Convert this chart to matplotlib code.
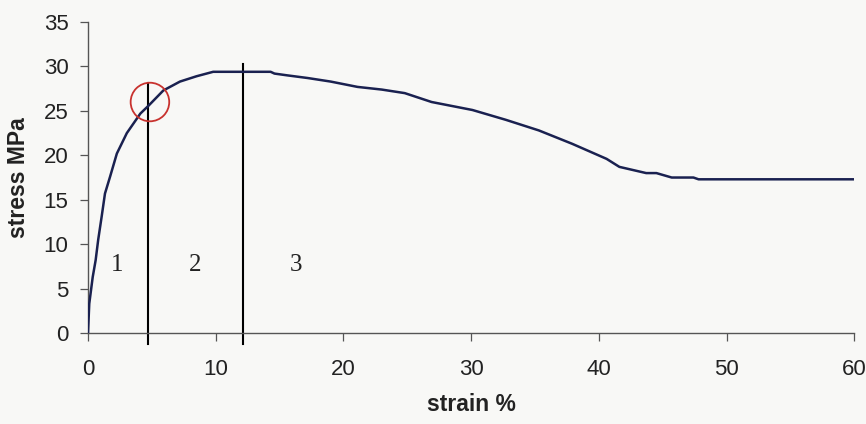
import matplotlib.pyplot as plt
from matplotlib.patches import Ellipse

# data
strain = [0, 0.1, 0.37, 0.6, 0.8, 1.07, 1.33, 1.73, 2.26, 3.04, 4.1, 4.75, 5.9, 7.2,
          8.5, 9.8, 14.3, 14.6, 15.6, 17.2, 19.0, 21.1, 23.0, 24.8, 26.9, 30.1, 32.7,
          35.3, 37.9, 40.6, 41.6, 43.7, 44.5, 45.7, 47.4, 47.8, 60.0]
stress = [0, 3.3, 6.3, 8.2, 10.5, 13.1, 15.7, 17.6, 20.2, 22.5, 24.7, 25.6, 27.3, 28.3,
          28.9, 29.4, 29.4, 29.2, 29.0, 28.7, 28.3, 27.7, 27.4, 27.0, 26.0, 25.1, 24.0,
          22.8, 21.3, 19.6, 18.7, 18.0, 18.0, 17.5, 17.5, 17.3, 17.3]

# region boundaries (strain, top of line)
boundary_x = [4.73, 12.1]
boundary_top = [28.1, 30.3]
region_labels = ['1', '2', '3']
region_x = [2.3, 8.4, 16.3]
region_y = 7.7

circle_center = (4.85, 26.0)

xticks = [0, 10, 20, 30, 40, 50, 60]
yticks = [0, 5, 10, 15, 20, 25, 30, 35]

plt.rcParams['font.family'] = ['Liberation Sans', 'DejaVu Sans']

bg = '#f8f8f6'
fig = plt.figure(figsize=(8.66, 4.24), dpi=100, facecolor=bg)
ax = fig.add_axes([0.1016, 0.2146, 0.885, 0.7334], facecolor=bg)

ax.plot(strain, stress, color='#1a2150', linewidth=1.8, zorder=3)

for bx, bt in zip(boundary_x, boundary_top):
    ax.plot([bx, bx], [-1.2, bt], color='black', linewidth=1.5, clip_on=False, zorder=2)

for lab, lx in zip(region_labels, region_x):
    ax.text(lx, region_y, lab, family='Liberation Serif', fontsize=18,
            ha='center', va='center', color='#222222')

# red circle, kept round in pixel space
w = 38.6 / 12.78
h = 38.6 / 8.89
ax.add_patch(Ellipse(circle_center, w, h, fill=False, edgecolor='#c8322e',
                     linewidth=1.3, zorder=4))

ax.set_xlim(0, 60)
ax.set_ylim(0, 35)
ax.set_xticks(xticks)
ax.set_yticks(yticks)
for s in ['top', 'right']:
    ax.spines[s].set_visible(False)
for s in ['left', 'bottom']:
    ax.spines[s].set_color('#555555')
    ax.spines[s].set_linewidth(1.0)

ax.tick_params(axis='y', direction='out', length=6, width=0.9, color='#555555',
               pad=8, labelsize=16, labelcolor='#222222')
ax.tick_params(axis='x', direction='out', length=6, width=0.9, color='#555555',
               pad=13, labelsize=16, labelcolor='#222222')

ax.set_xlabel('strain %', fontsize=16.5, fontweight='bold', color='#222222', labelpad=9)
ax.set_ylabel('stress MPa', fontsize=16.5, fontweight='bold', color='#222222', labelpad=10)

plt.savefig('out.png', dpi=100, facecolor=bg)
